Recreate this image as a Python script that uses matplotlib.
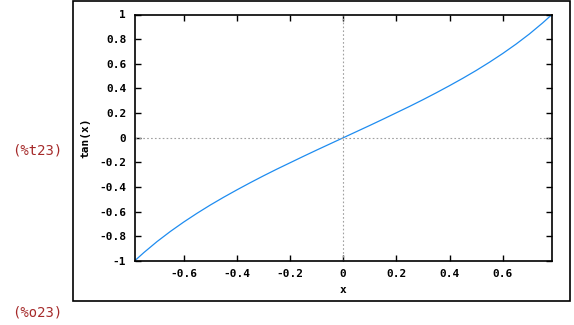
import matplotlib
matplotlib.use("Agg")
import matplotlib.pyplot as plt
from matplotlib.patches import Rectangle

# valores: tan(x) en [-pi/4, pi/4]
x_vals = [-0.785, -0.75, -0.7, -0.65, -0.6, -0.55, -0.5, -0.45, -0.4, -0.35,
          -0.3, -0.25, -0.2, -0.15, -0.1, -0.05, 0.0,
          0.05, 0.1, 0.15, 0.2, 0.25, 0.3, 0.35, 0.4, 0.45,
          0.5, 0.55, 0.6, 0.65, 0.7, 0.75, 0.785]
y_vals = [-1.0, -0.932, -0.842, -0.760, -0.684, -0.613, -0.546, -0.483, -0.423, -0.365,
          -0.309, -0.255, -0.203, -0.151, -0.100, -0.050, 0.0,
          0.050, 0.100, 0.151, 0.203, 0.255, 0.309, 0.365, 0.423, 0.483,
          0.546, 0.613, 0.684, 0.760, 0.842, 0.932, 1.0]

x_ticks = [-0.6, -0.4, -0.2, 0, 0.2, 0.4, 0.6]
x_labels = ["-0.6", "-0.4", "-0.2", "0", "0.2", "0.4", "0.6"]
y_ticks = [-1, -0.8, -0.6, -0.4, -0.2, 0, 0.2, 0.4, 0.6, 0.8, 1]
y_labels = ["-1", "-0.8", "-0.6", "-0.4", "-0.2", "0", "0.2", "0.4", "0.6", "0.8", "1"]

fnt = dict(family="DejaVu Sans Mono", weight="bold", size=8)

fig = plt.figure(figsize=(5.74, 3.25), dpi=100)

# marco exterior
fig.patches.append(Rectangle((73 / 574, 1 - 301 / 325), 497 / 574, 300 / 325,
                             transform=fig.transFigure, fill=False,
                             edgecolor="black", linewidth=1.2))

ax = fig.add_axes([134.5 / 574, 1 - 261 / 325, (552 - 134.5) / 574, (261 - 14.5) / 325])

ax.plot(x_vals, y_vals, color="#1E8CF0", linewidth=0.9)
ax.axhline(0, color="#a0a0a0", linestyle=(0, (1.5, 2)), linewidth=0.8)
ax.axvline(0, color="#a0a0a0", linestyle=(0, (1.5, 2)), linewidth=0.8)

ax.set_xlim(-0.785, 0.785)
ax.set_ylim(-1, 1)
ax.set_xticks(x_ticks)
ax.set_xticklabels(x_labels, **fnt)
ax.set_yticks(y_ticks)
ax.set_yticklabels(y_labels, **fnt)
ax.tick_params(direction="in", length=4, width=1, top=True, right=True, pad=6)
ax.tick_params(axis="y", pad=6)
for s in ax.spines.values():
    s.set_linewidth(1.2)

ax.set_xlabel("x", labelpad=4, **fnt)
ax.set_ylabel("tan(x)", labelpad=6, **fnt)

# etiquetas de maxima
fig.text(12 / 574, 1 - 151 / 325, "(%t23)", color="#a52a2a", family="DejaVu Sans Mono",
         size=10, va="center", ha="left")
fig.text(12 / 574, 1 - 313 / 325, "(%o23)", color="#a52a2a", family="DejaVu Sans Mono",
         size=10, va="center", ha="left")

plt.savefig("out.png", dpi=100)
